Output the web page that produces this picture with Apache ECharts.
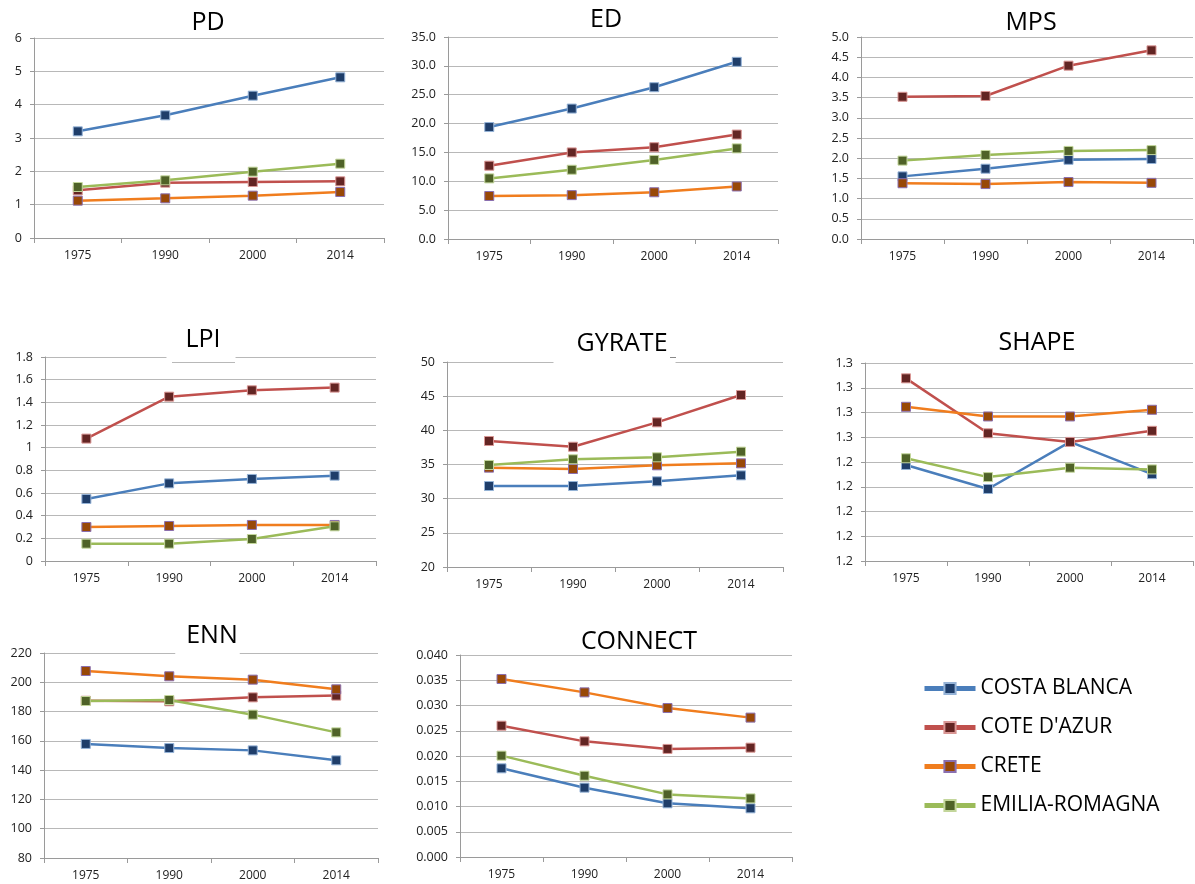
<!DOCTYPE html>
<html>
<head>
<meta charset="utf-8">
<script src="https://cdn.jsdelivr.net/npm/echarts@6.0.0/dist/echarts.min.js"></script>
<style>
  html, body { margin: 0; padding: 0; background: #ffffff; }
  #chart { width: 1195px; height: 884px; }
</style>
</head>
<body>
<div id="chart"></div>
<script>
// ---------------- DATA ----------------
const years = ['1975', '1990', '2000', '2014'];
const regions = ['COSTA BLANCA', "COTE D'AZUR", 'CRETE', 'EMILIA-ROMAGNA'];
const metricNames = ['PD', 'ED', 'MPS', 'LPI', 'GYRATE', 'SHAPE', 'ENN', 'CONNECT'];

// each: [Costa Blanca, Cote d'Azur, Crete, Emilia-Romagna]
const PD = [
  [3.20, 3.68, 4.27, 4.82],
  [1.43, 1.66, 1.68, 1.70],
  [1.12, 1.19, 1.27, 1.38],
  [1.53, 1.73, 1.99, 2.23]
];
const ED = [
  [19.4, 22.6, 26.3, 30.7],
  [12.7, 15.0, 15.9, 18.1],
  [7.45, 7.6, 8.1, 9.1],
  [10.5, 12.0, 13.7, 15.7]
];
const MPS = [
  [1.55, 1.74, 1.96, 1.98],
  [3.52, 3.54, 4.29, 4.67],
  [1.38, 1.36, 1.41, 1.39],
  [1.94, 2.08, 2.18, 2.20]
];
const LPI = [
  [0.547, 0.685, 0.724, 0.753],
  [1.08, 1.45, 1.506, 1.53],
  [0.30, 0.309, 0.318, 0.318],
  [0.153, 0.153, 0.194, 0.306]
];
const GYRATE = [
  [31.85, 31.85, 32.54, 33.41],
  [38.44, 37.6, 41.17, 45.17],
  [34.54, 34.34, 34.88, 35.17],
  [34.93, 35.76, 36.05, 36.88]
];
const SHAPE = [
  [1.2388, 1.2291, 1.2481, 1.2351],
  [1.2738, 1.2516, 1.2481, 1.2526],
  [1.2623, 1.2584, 1.2584, 1.2611],
  [1.2415, 1.2339, 1.2377, 1.2370]
];
const ENN = [
  [157.9, 155.1, 153.5, 146.7],
  [187.4, 187.0, 189.7, 190.9],
  [207.7, 204.1, 201.8, 195.2],
  [187.2, 187.9, 177.9, 165.8]
];
const CONNECT = [
  [0.01756, 0.01373, 0.01063, 0.00964],
  [0.0260, 0.0229, 0.0214, 0.02165],
  [0.03525, 0.0326, 0.0295, 0.0276],
  [0.02007, 0.0161, 0.0124, 0.0116]
];
const metricData = [PD, ED, MPS, LPI, GYRATE, SHAPE, ENN, CONNECT];

// y axis scales: [min, max, interval, decimals]
const yScales = [
  [0, 6, 1, 0],
  [0, 35, 5, 1],
  [0, 5, 0.5, 1],
  [0, 1.8, 0.2, -1],
  [20, 50, 5, 0],
  [1.20, 1.28, 0.01, -2],
  [80, 220, 20, 0],
  [0, 0.04, 0.005, 3]
];
// SHAPE tick labels as printed (bottom to top)
const shapeTickLabels = ['1.2', '1.2', '1.2', '1.2', '1.2', '1.3', '1.3', '1.3', '1.3'];

// ---------------- STYLE / LAYOUT ----------------
const lineColors = ['#4a7ebb', '#c0504d', '#f07d1e', '#9bbb59'];
const markerFill = ['#1f3e6a', '#632523', '#984807', '#4f6228'];
const markerBorder = ['#95b3d7', '#d99694', '#8a6fb0', '#c3d69b'];

// grid boxes [left, top, width, height]
const grids = [
  [34, 38, 350, 200],
  [448, 37, 330, 202],
  [861, 37, 332, 202],
  [45, 357, 331, 204],
  [447, 362, 336, 205],
  [865, 363, 328, 198],
  [44, 653, 334, 205],
  [460, 655, 332, 202]
];
// title centres [cx, cy] and padding [t, r, b, l], with/without white box
const titlePos = [
  [208, 23, [0, 0, 0, 0], false],
  [606, 20, [0, 0, 0, 0], false],
  [1031, 23, [0, 0, 0, 0], false],
  [203, 340, [5, 15, 8, 19], true],
  [622, 344, [5, 8, 9, 23], true],
  [1037, 343, [0, 0, 0, 0], false],
  [212, 636, [5, 2, 8, 11], true],
  [639, 642, [0, 0, 0, 0], false]
];

const FONT = "'Open Sans', 'Liberation Sans', sans-serif";
const gridColor = '#b8b8b8';

const option = {
  animation: false,
  backgroundColor: '#ffffff',
  title: [],
  grid: [],
  xAxis: [],
  yAxis: [],
  series: [],
  legend: {
    data: regions,
    orient: 'vertical',
    left: 922,
    top: 677,
    padding: 0,
    itemWidth: 51,
    itemHeight: 14,
    itemGap: 16,
    selectedMode: false,
    lineStyle: { width: 5 },
    textStyle: { fontFamily: FONT, fontSize: 21, color: '#000', lineHeight: 23, padding: [0, 0, 0, 0] }
  },
  graphic: [
    { type: 'line', z: 100, shape: { x1: 172, y1: 362.5, x2: 235, y2: 362.5 }, style: { stroke: gridColor, lineWidth: 1 } },
    { type: 'line', z: 100, shape: { x1: 670, y1: 357.5, x2: 676, y2: 357.5 }, style: { stroke: '#888', lineWidth: 1 } }
  ]
};

metricNames.forEach((name, i) => {
  const [l, t, w, h] = grids[i];
  const [cx, cy, pad, boxed] = titlePos[i];
  option.title.push({
    text: name,
    left: cx - pad[3],
    top: cy - 12.5 - pad[0],
    textAlign: 'center',
    padding: pad,
    backgroundColor: boxed ? '#ffffff' : 'transparent',
    textStyle: { fontFamily: FONT, fontSize: 25, fontWeight: 'normal', color: '#000' }
  });
  option.grid.push({ left: l, top: t, width: w, height: h, containLabel: false });
  option.xAxis.push({
    type: 'category',
    gridIndex: i,
    data: years,
    boundaryGap: true,
    axisLine: { show: true, lineStyle: { color: '#9a9a9a', width: 1 } },
    axisTick: { show: true, length: 5, lineStyle: { color: '#9a9a9a' } },
    axisLabel: { fontFamily: FONT, fontSize: 12, color: '#222', margin: 12 },
    splitLine: { show: false }
  });
  const [mn, mx, iv, dec] = yScales[i];
  option.yAxis.push({
    type: 'value',
    gridIndex: i,
    min: mn,
    max: mx,
    interval: iv,
    axisLine: { show: true, lineStyle: { color: '#9a9a9a', width: 1 } },
    axisTick: { show: true, length: 4, lineStyle: { color: '#9a9a9a' } },
    splitLine: { show: true, lineStyle: { color: gridColor, width: 1 } },
    axisLabel: {
      fontFamily: FONT, fontSize: 12.5, color: '#222', margin: 12,
      formatter: (v, idx) => {
        if (dec === -2) return shapeTickLabels[idx];
        if (dec === -1) return String(+v.toFixed(2));
        return v.toFixed(dec);
      }
    }
  });
  metricData[i].forEach((vals, s) => {
    option.series.push({
      name: regions[s],
      type: 'line',
      xAxisIndex: i,
      yAxisIndex: i,
      data: vals,
      symbol: 'rect',
      symbolSize: 9,
      lineStyle: { color: lineColors[s], width: 2.5 },
      itemStyle: { color: markerFill[s], borderColor: markerBorder[s], borderWidth: 1 },
      z: 2 + s
    });
  });
});

const chart = echarts.init(document.getElementById('chart'), null, { renderer: 'canvas' });
chart.setOption(option);
</script>
</body>
</html>
